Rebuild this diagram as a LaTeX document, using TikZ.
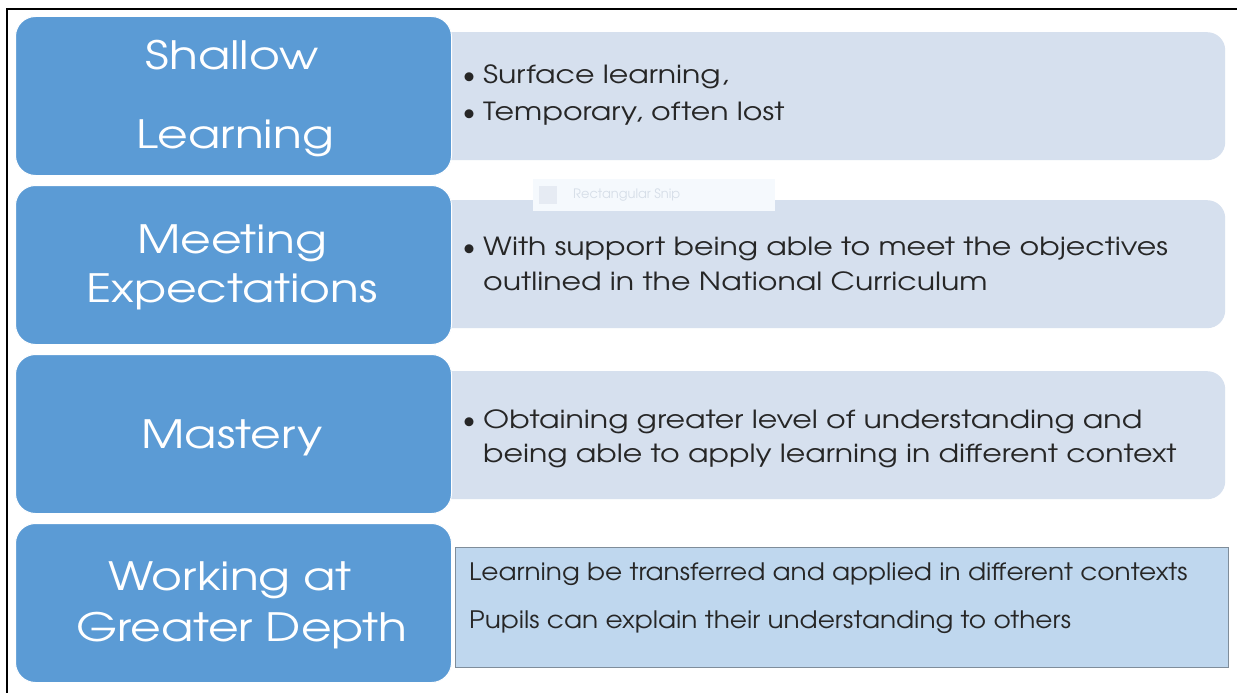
\documentclass[tikz,border=0pt]{standalone}
\usepackage{fontspec}
\IfFontExistsTF{texgyreadventor-regular.otf}{%
  \setmainfont{texgyreadventor-regular.otf}%
  \newfontfamily\titlefont[FakeStretch=1.21]{texgyreadventor-regular.otf}%
  \newfontfamily\bulletfont[FakeStretch=1.2]{texgyreadventor-regular.otf}%
  \newfontfamily\depthfont[FakeStretch=1.1]{texgyreadventor-regular.otf}%
}{%
  \setmainfont{Poppins}%
  \newfontfamily\titlefont[FakeStretch=1.1]{Poppins}%
  \newfontfamily\bulletfont[FakeStretch=1.05]{Poppins}%
  \newfontfamily\depthfont{Poppins}%
}
\definecolor{blueBox}{HTML}{5B9BD5}
\definecolor{lightBox}{HTML}{D6E0EE}
\definecolor{depthBox}{HTML}{BFD7EE}
\definecolor{depthLine}{HTML}{7F8D9A}
\definecolor{bodyText}{HTML}{262626}
\definecolor{snipFill}{HTML}{F5F9FD}
\definecolor{snipText}{HTML}{D6DEE8}
\tikzset{
  titlebox/.style={draw=white, line width=1pt, fill=blueBox, rounded corners=20pt,
    minimum width=436pt, minimum height=159pt, anchor=north west, inner sep=0pt},
  descbox/.style={fill=lightBox, rounded corners=18pt, minimum width=800pt,
    minimum height=128pt, anchor=north west, inner sep=0pt},
  titletext/.style={text=white, anchor=base, inner sep=0pt, font=\titlefont\fontsize{39}{44}\selectfont},
  bullettext/.style={text=bodyText, anchor=base west, inner sep=0pt, font=\bulletfont\fontsize{25}{30}\selectfont},
  bulletdot/.style={text=bodyText, anchor=base, inner sep=0pt, font=\fontsize{25}{30}\selectfont},
  depthtext/.style={text=bodyText, anchor=base west, inner sep=0pt, font=\depthfont\fontsize{24}{28}\selectfont},
}
\begin{document}
\begin{tikzpicture}[x=1pt,y=-1pt]
\useasboundingbox (0,0) rectangle (1237,693);
\fill[white] (0,0) rectangle (1237,693);
\draw[line width=2pt] (7,693) -- (7,9) -- (1237,9);

% description boxes
\node[descbox] (d1) at (425,32) {};
\node[descbox] (d2) at (425,200) {};
\node[descbox] (d3) at (425,371) {};
\node[draw=depthLine, line width=1.2pt, fill=depthBox, minimum width=773pt, minimum height=120pt,
  anchor=north west, inner sep=0pt] (d4) at (455,547) {};

% faint snip artefact
\node[fill=snipFill, minimum width=242pt, minimum height=32pt, anchor=north west, inner sep=0pt] (snip) at (533,179) {};
\node[fill=snipText!50!snipFill, minimum width=18pt, minimum height=18pt, anchor=west, inner sep=0pt] (snipicon) at ([xshift=6pt]snip.west) {};
\node[text=snipText, anchor=west, inner sep=0pt, font=\fontsize{13}{15}\selectfont] (sniptext) at ([xshift=40pt]snip.west) {Rectangular Snip};

% title boxes
\node[titlebox] (t1) at (15,16) {};
\node[titlebox] (t2) at (15,185) {};
\node[titlebox] (t3) at (15,354) {};
\node[titlebox] (t4) at (15,523) {};

\node[titletext] (t1a) at (232,70) {Shallow};
\node[titletext] (t1b) at (235,148) {Learning};
\node[titletext] (t2a) at (232,253) {Meeting};
\node[titletext] (t2b) at (232,302) {Expectations};
\node[titletext] (t3a) at (232,448) {Mastery};
\node[titletext] (t4a) at (230,590) {Working at};
\node[titletext] (t4b) at (242,641) {Greater Depth};

% bullets
\node[bulletdot] (p1a) at (469,84) {\textbullet};
\node[bullettext] (s1a) at (483,84) {Surface learning,};
\node[bulletdot] (p1b) at (469,121) {\textbullet};
\node[bullettext] (s1b) at (483,121) {Temporary, often lost};

\node[bulletdot] (p2a) at (469,255) {\textbullet};
\node[bullettext] (s2a) at (483,255) {With support being able to meet the objectives};
\node[bullettext] (s2b) at (483,290) {outlined in the National Curriculum};

\node[bulletdot] (p3a) at (469,428) {\textbullet};
\node[bullettext] (s3a) at (483,428) {Obtaining greater level of understanding and};
\node[bullettext] (s3b) at (483,462) {being able to apply learning in different context};

\node[depthtext] (s4a) at (469,580) {Learning be transferred and applied in different contexts};
\node[depthtext] (s4b) at (469,628) {Pupils can explain their understanding to others};
\end{tikzpicture}
\end{document}
